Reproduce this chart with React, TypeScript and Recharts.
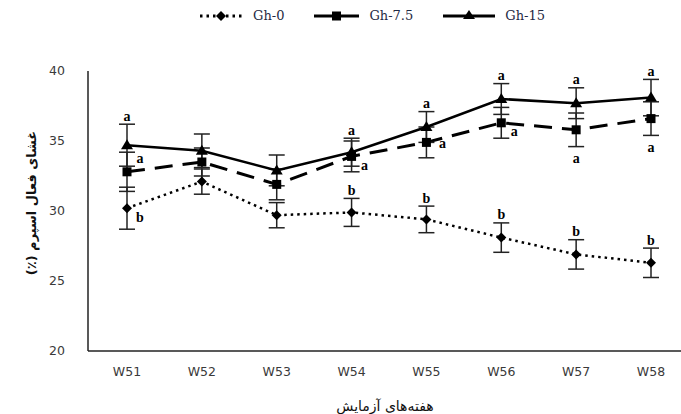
import React from 'react'
import { LineChart, Line, XAxis, YAxis, ErrorBar } from 'recharts'

const weeks = ['W51', 'W52', 'W53', 'W54', 'W55', 'W56', 'W57', 'W58']

const gh0 = [30.2, 32.1, 29.7, 29.9, 29.4, 28.1, 26.9, 26.3]
const gh0Err = [1.5, 0.9, 0.9, 1.0, 0.95, 1.05, 1.05, 1.05]
const gh0Letters = ['b', '', '', 'b', 'b', 'b', 'b', 'b']

const gh75 = [32.8, 33.5, 31.9, 33.9, 34.9, 36.3, 35.8, 36.6]
const gh75Err = [1.4, 1.0, 1.1, 1.1, 1.1, 1.1, 1.2, 1.2]
const gh75Letters = ['a', '', '', 'a', 'a', 'a', 'a', 'a']

const gh15 = [34.7, 34.3, 32.9, 34.2, 36.0, 38.0, 37.7, 38.1]
const gh15Err = [1.5, 1.2, 1.1, 1.0, 1.1, 1.1, 1.1, 1.3]
const gh15Letters = ['a', '', '', 'a', 'a', 'a', 'a', 'a']

const yTicks = [20, 25, 30, 35, 40]

// where each significance letter sits relative to its point
const gh0Place = ['rightBelow', '', '', 'top', 'top', 'top', 'top', 'top']
const gh75Place = ['rightAbove', '', '', 'rightBelow', 'right', 'rightBelow', 'bottom', 'bottom']
const gh15Place = ['top', '', '', 'top', 'top', 'top', 'top', 'top']

const data = weeks.map((w, i) => ({
  week: w,
  gh0: gh0[i],
  gh0Err: gh0Err[i],
  gh75: gh75[i],
  gh75Err: gh75Err[i],
  gh15: gh15[i],
  gh15Err: gh15Err[i],
}))

const W = 690
const H = 414
const TOP = 71
const XAXIS_H = 30
const BOTTOM = 63 - XAXIS_H
const PX_PER_UNIT = (H - TOP - BOTTOM - XAXIS_H) / 20

const Diamond = (props: any) => {
  const { cx, cy } = props
  if (cx == null || cy == null) return null
  return <polygon points={`${cx},${cy - 5} ${cx + 5},${cy} ${cx},${cy + 5} ${cx - 5},${cy}`} fill="#000" />
}
const Square = (props: any) => {
  const { cx, cy } = props
  if (cx == null || cy == null) return null
  return <rect x={cx - 4.5} y={cy - 4.5} width={9} height={9} fill="#000" />
}
const Triangle = (props: any) => {
  const { cx, cy } = props
  if (cx == null || cy == null) return null
  return <polygon points={`${cx},${cy - 6} ${cx + 6},${cy + 4} ${cx - 6},${cy + 4}`} fill="#000" />
}

const makeLetter = (letters: string[], errs: number[], places: string[]) => (props: any) => {
  const { x, y, index } = props
  const t = letters[index]
  if (!t) return null
  const e = errs[index] * PX_PER_UNIT
  let dx = 0
  let dy = 0
  switch (places[index]) {
    case 'top': dy = -e - 8; break
    case 'bottom': dy = e + 12; break
    case 'right': dx = 16; dy = 1; break
    case 'rightBelow': dx = 13; dy = 9; break
    case 'rightAbove': dx = 13; dy = -13; break
  }
  return (
    <text key={`l${index}`} x={x + dx} y={y + dy} textAnchor="middle" dominantBaseline="central"
      fontFamily="Liberation Serif" fontWeight="bold" fontSize={14} fill="#000">{t}</text>
  )
}

const tickStyle = { fontFamily: 'DejaVu Sans', fontSize: 12.5, fill: '#3a3a3a' }

function LegendItem({ label, dash, marker, width }: { label: string; dash?: string; marker: React.ReactNode; width: number }) {
  return (
    <div style={{ display: 'flex', alignItems: 'center', marginRight: 30 }}>
      <svg width={width} height={12} style={{ marginRight: 10 }}>
        <line x1={0} y1={6} x2={width} y2={6} stroke="#000" strokeWidth={3} strokeDasharray={dash} />
        {marker}
      </svg>
      <span style={{ fontFamily: 'DejaVu Serif', fontSize: 13, color: '#1f2a44' }}>{label}</span>
    </div>
  )
}

export default function App() {
  return (
    <div style={{ position: 'fixed', left: 0, top: 0, width: 681, height: 414, overflow: 'hidden', background: '#fff' }}>
      <LineChart width={W} height={H} data={data} margin={{ top: TOP, right: 2, bottom: BOTTOM, left: 28 }}>
        <XAxis dataKey="week" height={XAXIS_H} axisLine={{ stroke: '#222', strokeWidth: 1.5 }} tickLine={false}
          tick={tickStyle} tickMargin={10} padding={{ left: 39, right: 37 }} />
        <YAxis domain={[20, 40]} ticks={yTicks} width={60} axisLine={{ stroke: '#222', strokeWidth: 1.5 }}
          tickLine={false} tick={tickStyle} tickMargin={17} />
        <Line dataKey="gh0" stroke="#000" strokeWidth={2.5} strokeDasharray="2.5 4" dot={<Diamond />}
          activeDot={false} isAnimationActive={false} label={makeLetter(gh0Letters, gh0Err, gh0Place)}>
          <ErrorBar dataKey="gh0Err" width={8} stroke="#222" strokeWidth={1.5} direction="y" />
        </Line>
        <Line dataKey="gh75" stroke="#000" strokeWidth={3} strokeDasharray="18 10" dot={<Square />}
          activeDot={false} isAnimationActive={false} label={makeLetter(gh75Letters, gh75Err, gh75Place)}>
          <ErrorBar dataKey="gh75Err" width={8} stroke="#222" strokeWidth={1.5} direction="y" />
        </Line>
        <Line dataKey="gh15" stroke="#000" strokeWidth={2.5} dot={<Triangle />}
          activeDot={false} isAnimationActive={false} label={makeLetter(gh15Letters, gh15Err, gh15Place)}>
          <ErrorBar dataKey="gh15Err" width={8} stroke="#222" strokeWidth={1.5} direction="y" />
        </Line>
      </LineChart>

      <div style={{ position: 'absolute', top: 8, left: 200, display: 'flex' }}>
        <LegendItem label="Gh-0" width={43} dash="2.5 4"
          marker={<polygon points="21,1 26,6 21,11 16,6" fill="#000" />} />
        <LegendItem label="Gh-7.5" width={45}
          marker={<rect x={18} y={1.5} width={9} height={9} fill="#000" />} />
        <LegendItem label="Gh-15" width={52}
          marker={<polygon points="26,0 32,9 20,9" fill="#000" />} />
      </div>

      <div style={{ position: 'absolute', left: 31, top: 203, transform: 'translate(-50%, -50%) rotate(-90deg)',
        whiteSpace: 'nowrap', fontFamily: 'DejaVu Sans', fontSize: 13, fontWeight: 'bold', color: '#111', direction: 'rtl' }}>
        غشای فعال اسپرم (٪)
      </div>
      <div style={{ position: 'absolute', left: 385, top: 406, transform: 'translate(-50%, -50%)',
        whiteSpace: 'nowrap', fontFamily: 'DejaVu Sans', fontSize: 14, color: '#111', direction: 'rtl' }}>
        هفته‌های آزمایش
      </div>
    </div>
  )
}
